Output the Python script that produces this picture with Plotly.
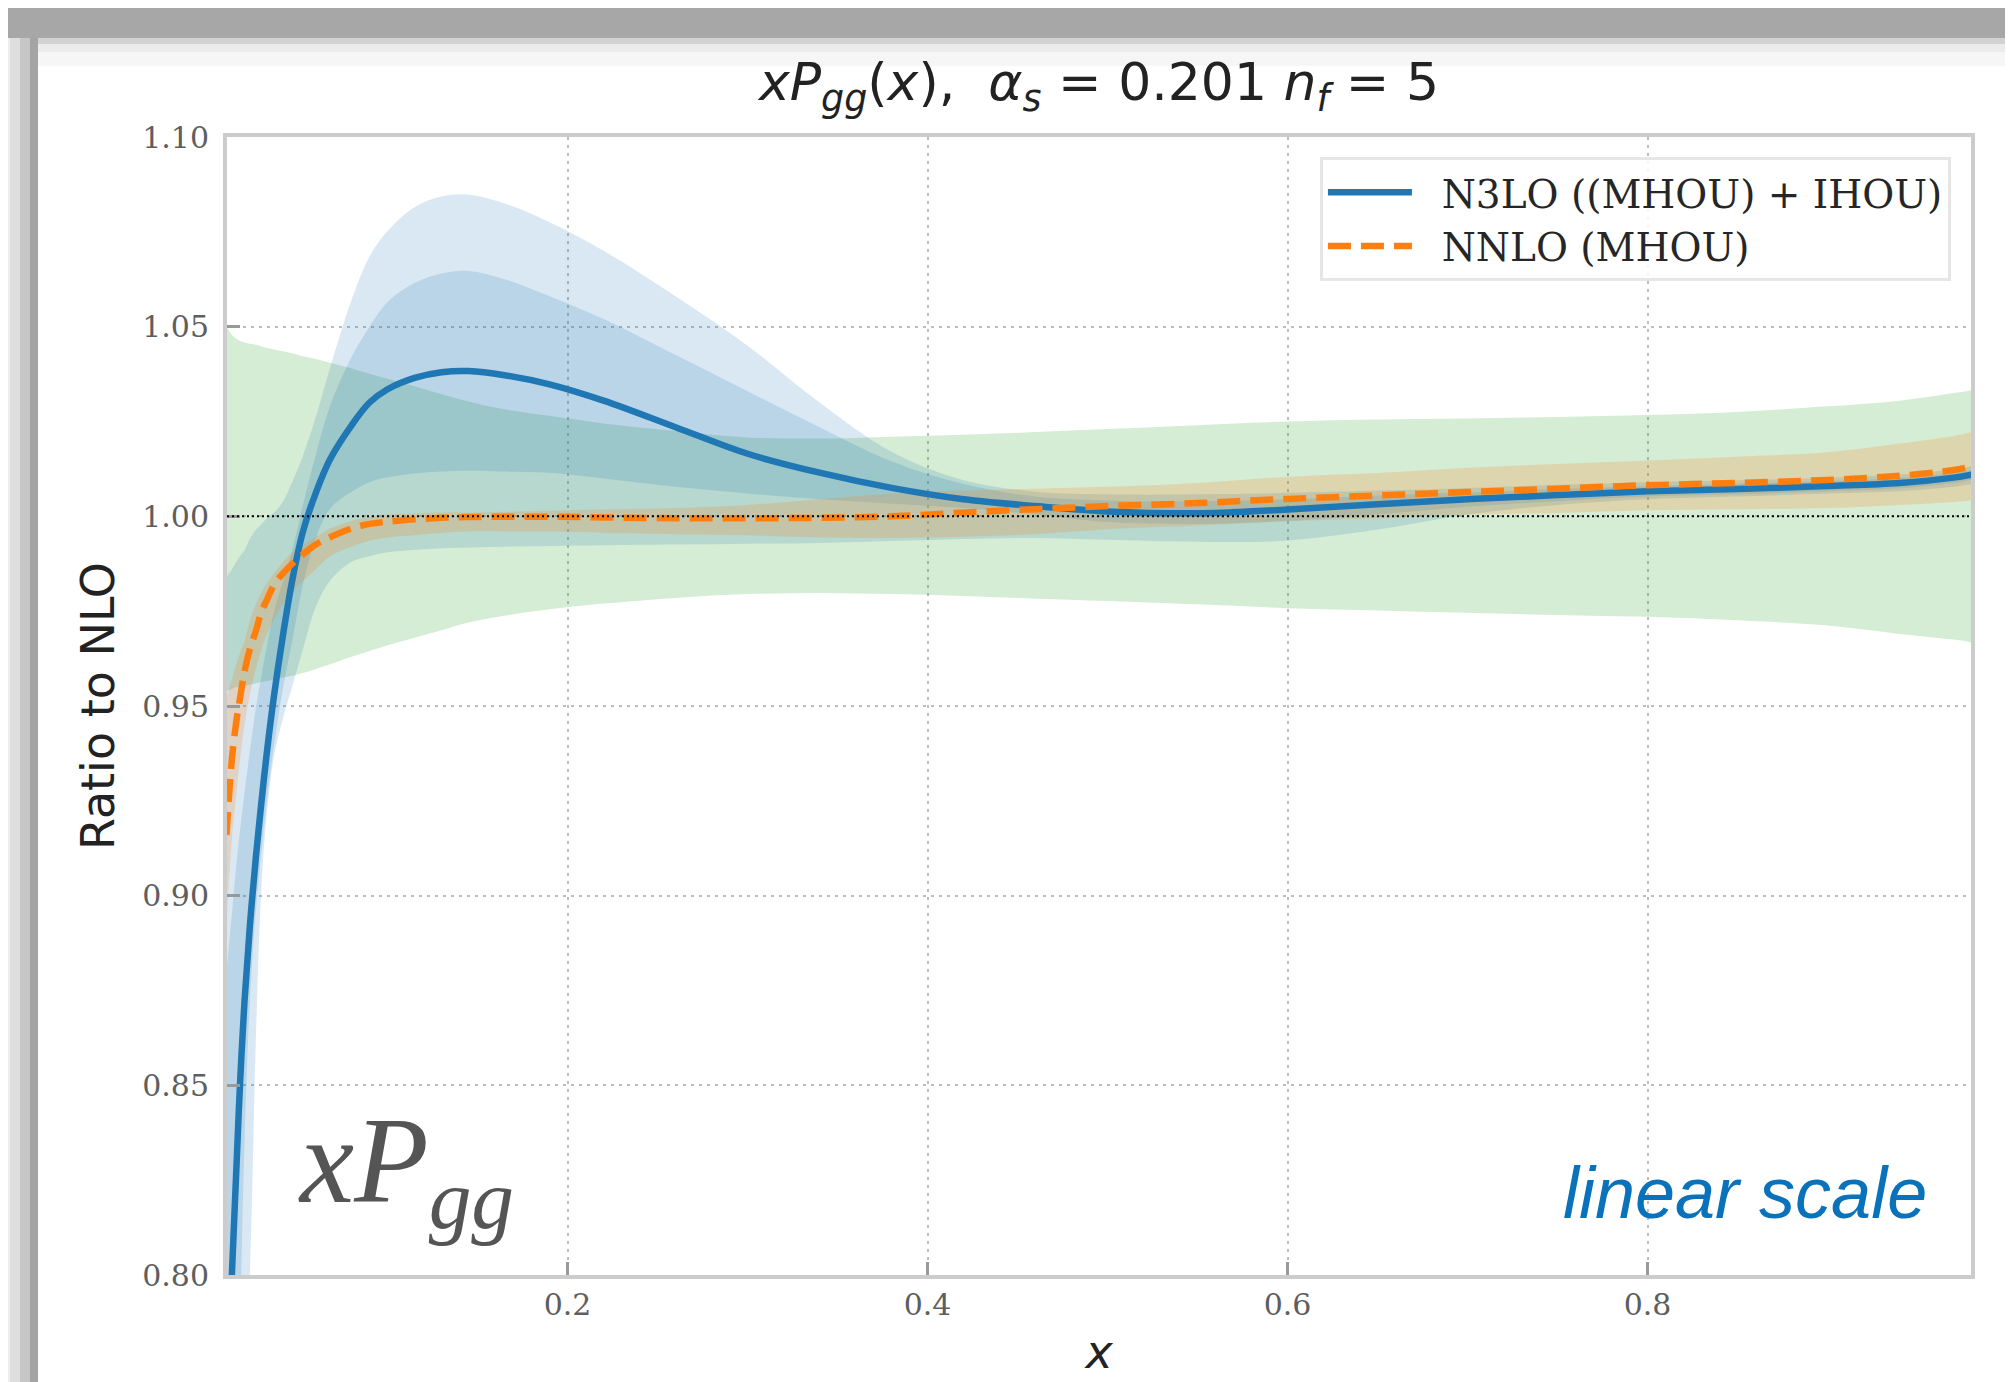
import plotly.graph_objects as go

# ---------------- data ----------------
x_grid = [0.0105, 0.0135, 0.016, 0.018, 0.0205, 0.0235, 0.027, 0.03, 0.033, 0.037,
          0.042, 0.047, 0.053, 0.06, 0.068, 0.08, 0.09, 0.1, 0.115, 0.13,
          0.145, 0.165, 0.19, 0.22, 0.26, 0.3, 0.34, 0.38, 0.42, 0.46,
          0.5, 0.55, 0.6, 0.65, 0.7, 0.75, 0.8, 0.85, 0.9, 0.94, 0.97, 0.98]

n3lo_central = [0.768, 0.800, 0.828, 0.850, 0.872, 0.892, 0.911, 0.925, 0.938, 0.953,
                0.969, 0.983, 0.996, 1.006, 1.015, 1.024, 1.030, 1.0335, 1.0365, 1.038,
                1.0383, 1.0372, 1.0348, 1.0305, 1.0235, 1.0165, 1.0115, 1.0075, 1.0045, 1.0027,
                1.0013, 1.0008, 1.0018, 1.0032, 1.0045, 1.0056, 1.0066, 1.0072, 1.0080, 1.0088, 1.0102, 1.0110]

n3lo_outer_hi = [0.984, 0.986, 0.988, 0.9895, 0.991, 0.994, 0.9965, 0.998, 0.9995, 1.001,
                 1.004, 1.009, 1.016, 1.026, 1.039, 1.057, 1.0685, 1.0752, 1.0815, 1.0843,
                 1.0848, 1.0825, 1.0775, 1.070, 1.058, 1.045, 1.030, 1.017, 1.0095, 1.0065,
                 1.0058, 1.0058, 1.0062, 1.0068, 1.0075, 1.0083, 1.0090, 1.0095, 1.0102, 1.0110, 1.0125, 1.0132]
n3lo_outer_lo = [0.600, 0.660, 0.700, 0.735, 0.770, 0.800, 0.865, 0.903, 0.922, 0.937,
                 0.947, 0.955, 0.965, 0.976, 0.983, 0.988, 0.9895, 0.9905, 0.9912, 0.9916,
                 0.9918, 0.9920, 0.9922, 0.9924, 0.9926, 0.9928, 0.9930, 0.9935, 0.9940, 0.9943,
                 0.9938, 0.9933, 0.9936, 0.9965, 1.0005, 1.0030, 1.0045, 1.0052, 1.0060, 1.0066, 1.0078, 1.0085]

n3lo_inner_hi = [0.880, 0.895, 0.908, 0.917, 0.927, 0.938, 0.950, 0.958, 0.966, 0.975,
                 0.983, 0.991, 1.003, 1.016, 1.029, 1.042, 1.050, 1.0565, 1.0615, 1.064,
                 1.0647, 1.0625, 1.058, 1.052, 1.0425, 1.033, 1.0235, 1.0145, 1.0085, 1.0052,
                 1.0042, 1.0040, 1.0045, 1.0055, 1.0063, 1.0072, 1.0080, 1.0086, 1.0093, 1.0101, 1.0115, 1.0122]
n3lo_inner_lo = [0.700, 0.735, 0.770, 0.790, 0.835, 0.872, 0.897, 0.912, 0.925, 0.940,
                 0.955, 0.967, 0.982, 0.994, 1.002, 1.0065, 1.009, 1.0103, 1.0113, 1.0118,
                 1.0120, 1.0118, 1.0115, 1.0100, 1.0078, 1.0060, 1.0045, 1.0033, 1.0022, 1.0005,
                 0.9985, 0.9980, 0.9988, 1.0005, 1.0025, 1.0040, 1.0052, 1.0058, 1.0066, 1.0074, 1.0088, 1.0097]

nnlo_central = [0.916, 0.936, 0.946, 0.952, 0.959, 0.965, 0.970, 0.975, 0.978, 0.982,
                0.985, 0.9875, 0.990, 0.9925, 0.9945, 0.9968, 0.998, 0.9986, 0.9992, 0.9996,
                0.9998, 0.9999, 0.9999, 0.9997, 0.9995, 0.9995, 0.9996, 1.0000, 1.0010, 1.0019,
                1.0027, 1.0035, 1.0046, 1.0055, 1.0064, 1.0073, 1.0082, 1.0088, 1.0096, 1.0107, 1.0122, 1.0132]
nnlo_hi = [0.952, 0.957, 0.961, 0.964, 0.967, 0.9725, 0.977, 0.980, 0.9825, 0.985,
           0.988, 0.9905, 0.9925, 0.9945, 0.9968, 0.9988, 0.9998, 1.0005, 1.0008, 1.0010,
           1.0010, 1.0012, 1.0015, 1.0018, 1.0022, 1.0030, 1.0045, 1.0060, 1.0068, 1.0073,
           1.0078, 1.0088, 1.0104, 1.0114, 1.0128, 1.0138, 1.0147, 1.0157, 1.0169, 1.0192, 1.0212, 1.0222]
nnlo_lo = [0.893, 0.915, 0.927, 0.936, 0.945, 0.953, 0.960, 0.965, 0.969, 0.973,
           0.977, 0.980, 0.983, 0.986, 0.9895, 0.992, 0.9935, 0.9944, 0.9950, 0.9956,
           0.9960, 0.9960, 0.9960, 0.9957, 0.9953, 0.9950, 0.9944, 0.9943, 0.9946, 0.9953,
           0.9966, 0.9976, 0.9987, 0.9995, 1.0004, 1.0009, 1.0016, 1.0019, 1.0022, 1.0030, 1.0038, 1.0042]

nlo_hi = [1.0500, 1.0478, 1.0468, 1.0463, 1.0458, 1.0455, 1.0452, 1.0448, 1.0444, 1.0440,
          1.0435, 1.0430, 1.0422, 1.0415, 1.0405, 1.0390, 1.0376, 1.0363, 1.0343, 1.0322,
          1.0303, 1.0282, 1.0265, 1.0245, 1.0225, 1.0208, 1.0205, 1.0210, 1.0215, 1.0222,
          1.0230, 1.0240, 1.0250, 1.0255, 1.0258, 1.0262, 1.0267, 1.0275, 1.0290, 1.0305, 1.0325, 1.0332]
nlo_lo = [0.9540, 0.9545, 0.9550, 0.9550, 0.9553, 0.9556, 0.9560, 0.9563, 0.9566, 0.9570,
          0.9575, 0.9580, 0.9587, 0.9597, 0.9610, 0.9630, 0.9645, 0.9660, 0.9680, 0.9700,
          0.9720, 0.9738, 0.9755, 0.9770, 0.9785, 0.9795, 0.9798, 0.9795, 0.9790, 0.9783,
          0.9777, 0.9768, 0.9758, 0.9752, 0.9746, 0.9740, 0.9735, 0.9726, 0.9712, 0.9690, 0.9675, 0.9668]

x_ticks = [0.2, 0.4, 0.6, 0.8]
y_ticks = [0.80, 0.85, 0.90, 0.95, 1.00, 1.05, 1.10]
x_range = [0.0108, 0.9797]
y_range = [0.80, 1.10]

# ---------------- styling ----------------
C_BLUE = "#1f77b4"
C_ORANGE = "#ff7f0e"
F_GREEN = "rgba(44,160,44,0.2)"
F_BLUE = "rgba(31,119,180,0.17)"
F_ORANGE = "rgba(255,127,14,0.2)"

fig = go.Figure()


def add_band(lo, hi, fill):
    fig.add_trace(go.Scatter(x=x_grid, y=lo, mode="lines", line=dict(width=0, shape="spline"),
                             showlegend=False, hoverinfo="skip"))
    fig.add_trace(go.Scatter(x=x_grid, y=hi, mode="lines", line=dict(width=0, shape="spline"),
                             fill="tonexty", fillcolor=fill, showlegend=False, hoverinfo="skip"))


add_band(nlo_lo, nlo_hi, F_GREEN)
add_band(n3lo_outer_lo, n3lo_outer_hi, F_BLUE)
add_band(n3lo_inner_lo, n3lo_inner_hi, F_BLUE)
add_band(nnlo_lo, nnlo_hi, F_ORANGE)

fig.add_trace(go.Scatter(x=x_grid, y=n3lo_central, mode="lines",
                         name="&nbsp;&nbsp;N3LO ((MHOU) + IHOU)",
                         line=dict(color=C_BLUE, width=6.5, shape="spline")))
fig.add_trace(go.Scatter(x=x_grid, y=nnlo_central, mode="lines",
                         name="&nbsp;&nbsp;NNLO (MHOU)",
                         line=dict(color=C_ORANGE, width=6.5, dash="23px,10px", shape="spline")))

# reference line at ratio = 1
fig.add_shape(type="line", xref="paper", x0=0, x1=1, yref="y", y0=1.0, y1=1.0,
              line=dict(color="black", width=2, dash="2px,3px"), layer="above")

# page-pixel -> paper helpers (the page body adds an 8px offset)
OFF = 8
PL, PR, PT, PB = 227, 1971, 137, 1275


def px2x(p):
    return (p - PL) / float(PR - PL)


def py2y(p):
    return (PB - p) / float(PB - PT)


# screenshot frame (grey shadow at top and left)
frame = [
    (0, 2013, 0, 38, "#a7a7a7"),
    (0, 2013, 38, 44, "#d2d2d2"),
    (0, 2013, 44, 52, "#ebebeb"),
    (0, 2013, 52, 66, "#f6f6f6"),
    (0, 10, 38, 1382, "#eeeeee"),
    (10, 20, 38, 1382, "#dedede"),
    (20, 30, 38, 1382, "#c6c6c6"),
    (30, 38, 38, 1382, "#a4a4a4"),
]
for x0, x1, y0, y1, col in frame:
    fig.add_shape(type="rect", xref="paper", yref="paper",
                  x0=px2x(x0), x1=px2x(x1), y0=py2y(y1), y1=py2y(y0),
                  fillcolor=col, line=dict(width=0), layer="above")

tick_font = dict(family="DejaVu Serif", size=30, color="#5e5e5e")

fig.update_xaxes(range=x_range, tickvals=x_ticks, tickformat=".1f", tickfont=tick_font,
                 showline=True, mirror=True, linecolor="#cccccc", linewidth=4,
                 ticks="inside", ticklen=13, tickwidth=3, tickcolor="#999999",
                 showgrid=True, gridcolor="#bdbdbd", gridwidth=2, griddash="3px,5px",
                 zeroline=False,
                 title=dict(text="<i>x</i>", font=dict(family="DejaVu Sans", size=46, color="#222222"),
                            standoff=16))
fig.update_yaxes(range=y_range, tickvals=y_ticks, tickformat=".2f", tickfont=tick_font,
                 showline=True, mirror=True, linecolor="#cccccc", linewidth=4,
                 ticks="inside", ticklen=13, tickwidth=3, tickcolor="#999999",
                 showgrid=True, gridcolor="#bdbdbd", gridwidth=2, griddash="3px,5px",
                 zeroline=False, ticklabelstandoff=8,
                 title=dict(text="Ratio to NLO", font=dict(family="DejaVu Sans", size=46, color="#222222"),
                            standoff=14))

fig.add_annotation(text="<i>xP<sub>gg</sub></i>", xref="paper", yref="paper",
                   x=0.0395, y=0.093, xanchor="left", yanchor="middle", showarrow=False,
                   font=dict(family="Liberation Serif", size=122, color="#555555"))
fig.add_annotation(text="<i>linear scale</i>", xref="paper", yref="paper",
                   x=0.976, y=0.072, xanchor="right", yanchor="middle", showarrow=False,
                   font=dict(family="Liberation Sans", size=72, color="#0a72ba"))

fig.update_layout(
    width=2013 - OFF, height=1382 - OFF,
    margin=dict(l=PL - OFF, r=2013 - PR, t=PT - OFF, b=1382 - PB, autoexpand=False),
    paper_bgcolor="white", plot_bgcolor="white",
    title=dict(text="<i>xP</i><sub><i>gg</i></sub>(<i>x</i>),  <i>α</i><sub><i>s</i></sub> = 0.201 "
                    "<i>n</i><sub><i>f</i></sub> = 5",
               x=0.5, xref="paper", xanchor="center",
               y=1 - (82 - OFF) / float(1382 - OFF), yanchor="middle",
               font=dict(family="DejaVu Sans", size=52, color="#222222")),
    legend=dict(x=0.9885, y=0.982, xanchor="right", yanchor="top",
                font=dict(family="DejaVu Serif", size=39, color="#262626"),
                bgcolor="rgba(255,255,255,0.85)", bordercolor="#e6e6e6", borderwidth=3,
                itemwidth=84, tracegroupgap=0, traceorder="normal"),
    showlegend=True,
)

fig.write_html("out.html")
